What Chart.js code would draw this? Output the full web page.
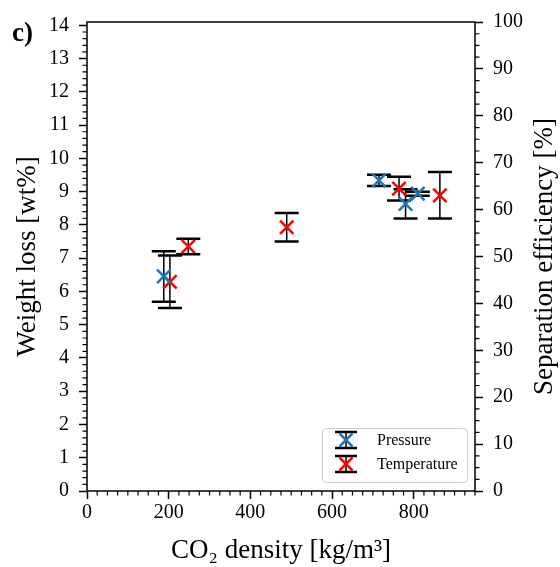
<!DOCTYPE html>
<html>
<head>
<meta charset="utf-8">
<script src="https://cdn.jsdelivr.net/npm/chart.js@4.4.1/dist/chart.umd.min.js"></script>
<style>
  html, body { margin: 0; padding: 0; background: #fff; }
  #wrap { width: 560px; height: 567px; position: relative; }
</style>
</head>
<body>
<div id="wrap"><canvas id="chart_weightLoss"></canvas></div>
<script>
// (panel c)
const pressureDensity = [188, 715, 780, 810];
const pressureLoss = [6.45, 9.34, 8.63, 8.94];
const pressureErr = [0.76, 0.17, 0.44, 0.06];

const temperatureDensity = [203, 248, 489, 764, 864];
const temperatureLoss = [6.29, 7.35, 7.93, 9.09, 8.89];
const temperatureErr = [0.79, 0.23, 0.43, 0.36, 0.70];

const xTicks = [0, 200, 400, 600, 800];
const lossTicks = [0, 1, 2, 3, 4, 5, 6, 7, 8, 9, 10, 11, 12, 13, 14];
const efficiencyTicks = [0, 10, 20, 30, 40, 50, 60, 70, 80, 90, 100];

const seriesNames = ['Pressure', 'Temperature'];
const seriesColors = ['#1f77b4', '#ff0000'];

const serif = "'Liberation Serif', 'Times New Roman', serif";
const tickFont = { family: serif, size: 20 };
const titleFont = { family: serif, size: 27 };

function toPoints(xs, ys) {
  return xs.map((v, i) => ({ x: v, y: ys[i] }));
}

function drawErrorBar(ctx, px, top, bottom, cap) {
  ctx.lineWidth = 1.5;
  ctx.beginPath();
  ctx.moveTo(px, top);
  ctx.lineTo(px, bottom);
  ctx.stroke();
  ctx.lineWidth = 2.5;
  ctx.beginPath();
  ctx.moveTo(px - cap, top);
  ctx.lineTo(px + cap, top);
  ctx.moveTo(px - cap, bottom);
  ctx.lineTo(px + cap, bottom);
  ctx.stroke();
}

function drawCross(ctx, px, py, r, color) {
  ctx.strokeStyle = color;
  ctx.lineWidth = 2.5;
  ctx.beginPath();
  ctx.moveTo(px - r, py - r);
  ctx.lineTo(px + r, py + r);
  ctx.moveTo(px - r, py + r);
  ctx.lineTo(px + r, py - r);
  ctx.stroke();
}

const errorBars = {
  id: 'errorBars',
  beforeDatasetsDraw(chart) {
    const ctx = chart.ctx;
    const x = chart.scales.x;
    const y = chart.scales.y;
    ctx.save();
    ctx.strokeStyle = '#000';
    chart.data.datasets.forEach(ds => {
      ds.data.forEach((pt, i) => {
        const px = x.getPixelForValue(pt.x);
        const top = y.getPixelForValue(pt.y + ds.yErr[i]);
        const bottom = y.getPixelForValue(pt.y - ds.yErr[i]);
        drawErrorBar(ctx, px, top, bottom, 12);
      });
    });
    ctx.restore();
  }
};

const frameAndMinor = {
  id: 'frameAndMinor',
  afterDraw(chart) {
    const ctx = chart.ctx;
    const area = chart.chartArea;
    const x = chart.scales.x;
    const y = chart.scales.y;
    const y2 = chart.scales.y2;
    ctx.save();
    ctx.strokeStyle = '#000';
    ctx.lineWidth = 1.2;
    ctx.beginPath();
    for (let i = 0; i * 25 <= x.max; i++) {
      if (i % 8 === 0) continue;
      const px = x.getPixelForValue(i * 25);
      ctx.moveTo(px, area.bottom);
      ctx.lineTo(px, area.bottom + 4.5);
    }
    for (let i = 0; i <= 70; i++) {
      if (i % 5 === 0) continue;
      const py = y.getPixelForValue(i * 0.2);
      ctx.moveTo(area.left, py);
      ctx.lineTo(area.left - 4.5, py);
    }
    for (let i = 0; i <= 40; i++) {
      if (i % 4 === 0) continue;
      const py = y2.getPixelForValue(i * 2.5);
      ctx.moveTo(area.right, py);
      ctx.lineTo(area.right + 4.5, py);
    }
    ctx.stroke();

    ctx.lineWidth = 1.5;
    ctx.strokeRect(area.left, area.top, area.right - area.left, area.bottom - area.top);

    // right axis title, reads bottom to top like the left one
    ctx.fillStyle = '#000';
    ctx.font = "27px " + serif;
    ctx.textAlign = 'center';
    ctx.textBaseline = 'middle';
    ctx.save();
    ctx.translate(545, (area.top + area.bottom) / 2);
    ctx.rotate(-Math.PI / 2);
    ctx.fillText('Separation efficiency [%]', 0, 0);
    ctx.restore();

    // panel letter
    ctx.font = "bold 27px " + serif;
    ctx.textAlign = 'left';
    ctx.textBaseline = 'alphabetic';
    ctx.fillText('c)', 12, 41);

    // legend
    const lx = 322, ly = 428, lw = 145, lh = 54;
    ctx.fillStyle = 'rgba(255,255,255,0.8)';
    ctx.strokeStyle = '#cccccc';
    ctx.lineWidth = 1;
    ctx.beginPath();
    ctx.roundRect(lx + 0.5, ly + 0.5, lw, lh, 4);
    ctx.fill();
    ctx.stroke();
    const rows = [440, 464];
    seriesNames.forEach((name, i) => {
      ctx.strokeStyle = '#000';
      drawErrorBar(ctx, 346, rows[i] - 8, rows[i] + 8, 11);
      drawCross(ctx, 346, rows[i], 6.5, seriesColors[i]);
      ctx.fillStyle = '#000';
      ctx.font = "16px " + serif;
      ctx.textBaseline = 'middle';
      ctx.fillText(name, 377, rows[i] + 1);
    });
    ctx.restore();
  }
};

function fixTicks(values) {
  return scale => { scale.ticks = values.map(v => ({ value: v })); };
}

const tickGrid = {
  drawOnChartArea: false,
  drawTicks: true,
  tickLength: 8,
  tickColor: '#000',
  tickWidth: 1.5
};

new Chart(document.getElementById('chart_weightLoss'), {
  type: 'scatter',
  data: {
    datasets: [
      {
        label: seriesNames[0],
        data: toPoints(pressureDensity, pressureLoss),
        yErr: pressureErr,
        borderColor: seriesColors[0],
        backgroundColor: seriesColors[0],
        pointStyle: 'crossRot',
        pointRadius: 9.5,
        pointHoverRadius: 9.5,
        pointBorderWidth: 2.5,
        yAxisID: 'y'
      },
      {
        label: seriesNames[1],
        data: toPoints(temperatureDensity, temperatureLoss),
        yErr: temperatureErr,
        borderColor: seriesColors[1],
        backgroundColor: seriesColors[1],
        pointStyle: 'crossRot',
        pointRadius: 9.5,
        pointHoverRadius: 9.5,
        pointBorderWidth: 2.5,
        yAxisID: 'y'
      }
    ]
  },
  plugins: [errorBars, frameAndMinor],
  options: {
    responsive: true,
    maintainAspectRatio: false,
    animation: false,
    layout: { padding: { top: 20, left: 0, right: 0, bottom: 0 } },
    plugins: {
      legend: { display: false },
      tooltip: { enabled: false }
    },
    scales: {
      x: {
        type: 'linear',
        min: 0,
        max: 950,
        afterBuildTicks: fixTicks(xTicks),
        afterFit: scale => { scale.height = 76; },
        border: { display: false },
        grid: tickGrid,
        ticks: { color: '#000', font: tickFont, padding: 2, maxRotation: 0 },
        title: {
          display: true,
          text: 'CO\u2082 density [kg/m\u00b3]',
          color: '#000',
          font: titleFont,
          padding: { top: 0, bottom: 0 }
        }
      },
      y: {
        type: 'linear',
        position: 'left',
        min: 0,
        max: 14.1,
        afterBuildTicks: fixTicks(lossTicks),
        afterFit: scale => { scale.width = 87; },
        border: { display: false },
        grid: tickGrid,
        ticks: { color: '#000', font: tickFont, padding: 10 },
        title: {
          display: true,
          text: 'Weight loss [wt%]',
          color: '#000',
          font: titleFont,
          padding: { top: 12, bottom: 0 }
        }
      },
      y2: {
        type: 'linear',
        position: 'right',
        min: 0,
        max: 100,
        afterBuildTicks: fixTicks(efficiencyTicks),
        afterFit: scale => { scale.width = 85; },
        border: { display: false },
        grid: tickGrid,
        ticks: { color: '#000', font: tickFont, padding: 10 }
      }
    }
  }
});
</script>
</body>
</html>
